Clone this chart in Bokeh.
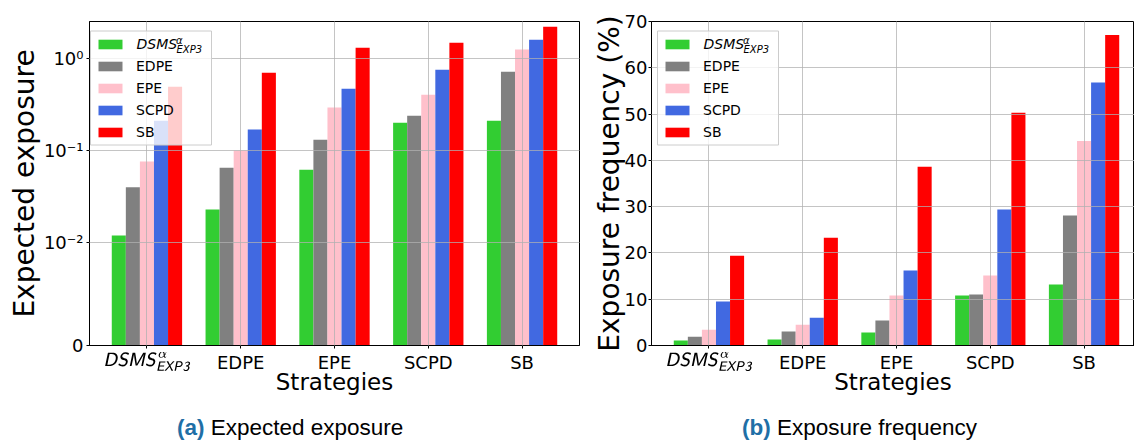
import math
from bokeh.plotting import figure
from bokeh.models import (ColumnDataSource, Range1d, FixedTicker, Legend, LegendItem,
                          Label, Div, CustomJSTransform, TeX, BoxAnnotation)
from bokeh.transform import dodge, transform
from bokeh.layouts import column, row
from bokeh.embed import file_html
from bokeh.resources import INLINE

# ---------------- data ----------------
strategies = ["DSMS", "EDPE", "EPE", "SCPD", "SB"]
series_names = ["DSMS", "EDPE", "EPE", "SCPD", "SB"]
series_colors = ["#32CD32", "#808080", "#FFC0CB", "#4169E1", "#FF0000"]

# (a) expected exposure (symlog axis)
exp_dsms = [0.012, 0.023, 0.062, 0.200, 0.211]
exp_edpe = [0.040, 0.065, 0.131, 0.239, 0.715]
exp_epe = [0.076, 0.100, 0.292, 0.403, 1.24]
exp_scpd = [0.211, 0.169, 0.468, 0.752, 1.59]
exp_sb = [0.492, 0.698, 1.30, 1.47, 2.19]
exp_ticks = [0, 0.01, 0.1, 1]
exp_tick_labels = ["0", "10⁻²", "10⁻¹", "10⁰"]
exp_top = 2.5

# (b) exposure frequency (%)
freq_dsms = [1.1, 1.3, 2.8, 10.8, 13.2]
freq_edpe = [1.9, 3.0, 5.4, 11.0, 28.1]
freq_epe = [3.4, 4.5, 10.8, 15.1, 44.2]
freq_scpd = [9.5, 6.0, 16.2, 29.4, 56.8]
freq_sb = [19.4, 23.3, 38.6, 50.3, 67.1]
freq_ticks = [0, 10, 20, 30, 40, 50, 60, 70]

# ---------------- helpers ----------------
LINTHRESH = 0.01
LINSCALE_ADJ = 1.0 / (1.0 - 1.0 / 10.0)


def symlog(v):
    return v / LINTHRESH * LINSCALE_ADJ if v <= LINTHRESH else LINSCALE_ADJ + math.log10(v / LINTHRESH)


symlog_tf = CustomJSTransform(
    args=dict(t=LINTHRESH, s=LINSCALE_ADJ),
    func="return x <= t ? x / t * s : s + Math.log10(x / t);",
    v_func="""
const out = new Float64Array(xs.length);
for (let i = 0; i < xs.length; i++) {
  const v = xs[i];
  out[i] = v <= t ? v / t * s : s + Math.log10(v / t);
}
return out;
""")

FONT = "DejaVu Sans"
FRAME_H = 324
BAR_W = 0.15
X_START = -0.6125
LEG_TOP_GAP = 9.5
LEG_PAD = 5
LEG_ROW = 16
LEG_SP = 6
LEG_GLYPH_W = 30
LEG_STANDOFF = 11
LEG_LABEL_W = 70
LEG_INNER_H = 5 * LEG_ROW + 4 * LEG_SP
LEG_H = 2 * LEG_PAD + LEG_INNER_H
LEG_W = 2 * LEG_PAD + LEG_GLYPH_W + LEG_STANDOFF + LEG_LABEL_W
idx = list(range(len(strategies)))

TICK_TEX = r"\small \mathsfit{DSMS}^{\alpha}_{\mathsfit{EXP3}}"


def make_fig(frame_w, x_end, y_range, min_left, min_right, ylabel):
    p = figure(frame_width=frame_w, frame_height=FRAME_H,
               x_range=Range1d(X_START, x_end), y_range=y_range,
               output_backend="svg", toolbar_location=None,
               min_border_top=21, min_border_left=min_left, min_border_right=min_right,
               min_border_bottom=55, background_fill_color="white", border_fill_color="white")
    p.outline_line_color = "black"
    p.outline_line_width = 1
    p.outline_line_alpha = 1
    for ax in (p.xaxis, p.yaxis):
        ax.axis_line_color = "black"
        ax.major_tick_line_color = "black"
        ax.major_tick_in = 0
        ax.major_tick_out = 3
        ax.minor_tick_line_color = None
        ax.major_label_text_font = FONT
        ax.major_label_text_font_size = "18px"
        ax.major_label_text_color = "black"
        ax.axis_label_text_font = FONT
        ax.axis_label_text_font_style = "normal"
        ax.axis_label_text_color = "black"
    p.xaxis.axis_label = "Strategies"
    p.xaxis.axis_label_text_font_size = "23px"
    p.xaxis.axis_label_standoff = -7
    p.xaxis.major_label_standoff = 3
    p.yaxis.axis_label = ylabel
    p.yaxis.axis_label_text_font_size = "28px"
    p.yaxis.axis_label_standoff = 0
    p.xaxis.ticker = FixedTicker(ticks=idx)
    overrides = {i: s for i, s in zip(idx, strategies)}
    overrides[0] = TeX(text=TICK_TEX)
    p.xaxis.major_label_overrides = overrides
    for g in (p.xgrid, p.ygrid):
        g.grid_line_color = "#b0b0b0"
        g.grid_line_alpha = 0.75
        g.grid_line_width = 1
        g.level = "guide"
    p.xgrid.ticker = FixedTicker(ticks=idx)
    return p


def add_bars(p, source, keys, use_tf):
    items = []
    n = len(keys)
    for i, (key, col, name) in enumerate(zip(keys, series_colors, series_names)):
        off = (i - (n - 1) / 2) * BAR_W
        top = transform(key, symlog_tf) if use_tf else key
        r = p.vbar(x=dodge("idx", off, range=p.x_range), top=top, bottom=0, width=BAR_W,
                   source=source, fill_color=col, line_color=None)
        items.append(LegendItem(label=(" " if i == 0 else name), renderers=[r]))
    return items


def math_label(p, x, y, size, sub_size, baseline, dx_sup, dy_sup, dx_sub, dy_sub):
    common = dict(x_units="screen", y_units="screen", text_font=FONT, text_font_style="italic",
                  text_align="left", text_color="black", level="overlay")
    p.add_layout(Label(x=x, y=y, text="DSMS", text_font_size=size,
                       text_baseline=baseline, **common))
    p.add_layout(Label(x=x + dx_sup, y=y + dy_sup, text="α", text_font_size=sub_size,
                       text_baseline=baseline, **common))
    p.add_layout(Label(x=x + dx_sub, y=y + dy_sub, text="EXP3", text_font_size=sub_size,
                       text_baseline=baseline, **common))


def add_legend(p, items, x_off):
    top = FRAME_H - LEG_TOP_GAP
    # legend frame drawn as a box so the custom first label stays on top of it
    p.add_layout(BoxAnnotation(left=x_off, right=x_off + LEG_W, top=top, bottom=top - LEG_H,
                               left_units="screen", right_units="screen",
                               top_units="screen", bottom_units="screen",
                               fill_color="white", fill_alpha=0.8,
                               line_color="#cccccc", line_width=1, line_alpha=1,
                               level="annotation"))
    lg = Legend(items=items, location=(x_off + LEG_PAD, top - LEG_PAD - LEG_INNER_H),
                orientation="vertical",
                label_text_font=FONT, label_text_font_size="14px", label_text_color="black",
                glyph_width=LEG_GLYPH_W, glyph_height=12, label_height=LEG_ROW, spacing=LEG_SP,
                padding=0, margin=0, label_standoff=LEG_STANDOFF, label_width=LEG_LABEL_W,
                border_line_color=None, background_fill_alpha=0)
    p.add_layout(lg)
    lx = x_off + LEG_PAD + LEG_GLYPH_W + LEG_STANDOFF
    cy = top - LEG_PAD - LEG_ROW / 2
    math_label(p, lx, cy, "14px", "10px", "middle", 39.5, 4, 40, -5.5)


# ---------------- (a) ----------------
FW1 = 490
XE1 = 4.6125
PX_PER_UNIT = FW1 / (XE1 - X_START)
src1 = ColumnDataSource(dict(idx=idx, dsms=exp_dsms, edpe=exp_edpe, epe=exp_epe,
                             scpd=exp_scpd, sb=exp_sb))
p1 = make_fig(FW1, XE1, Range1d(0, symlog(exp_top)), 89, 9, "Expected exposure")
p1.yaxis.ticker = FixedTicker(ticks=[symlog(t) for t in exp_ticks])
p1.yaxis.major_label_overrides = {symlog(t): lab for t, lab in zip(exp_ticks, exp_tick_labels)}
p1.yaxis.major_label_standoff = 3
p1.ygrid.ticker = FixedTicker(ticks=[symlog(t) for t in exp_ticks])
items1 = add_bars(p1, src1, ["dsms", "edpe", "epe", "scpd", "sb"], True)
add_legend(p1, items1, 1)

# ---------------- (b) ----------------
FW2 = 483
XE2 = X_START + FW2 / PX_PER_UNIT
src2 = ColumnDataSource(dict(idx=idx, dsms=freq_dsms, edpe=freq_edpe, epe=freq_epe,
                             scpd=freq_scpd, sb=freq_sb))
p2 = make_fig(FW2, XE2, Range1d(0, 70), 63, 0, "Exposure frequency (%)")
p2.yaxis.ticker = FixedTicker(ticks=freq_ticks)
p2.yaxis.major_label_standoff = 1
p2.yaxis.axis_label_standoff = -4
p2.ygrid.ticker = FixedTicker(ticks=freq_ticks)
items2 = add_bars(p2, src2, ["dsms", "edpe", "epe", "scpd", "sb"], False)
add_legend(p2, items2, 6)

# ---------------- captions ----------------
CAP = ("<div style=\"padding-left:{pad}px;padding-top:17px;font-family:'Liberation Sans',Arial,sans-serif;"
       "font-size:22.5px;color:black;white-space:nowrap;line-height:22px;\">"
       "<span style=\"color:#1f6fa6;font-weight:bold\">{tag}</span> {txt}</div>")
d1 = Div(text=CAP.format(pad=177, tag="(a)", txt="Expected exposure"), width=588, height=36, margin=0)
d2 = Div(text=CAP.format(pad=154, tag="(b)", txt="Exposure frequency"), width=546, height=36, margin=0)

layout = column(row(p1, p2, spacing=0), row(d1, d2, spacing=0), spacing=0)
open("out.html", "w").write(file_html(layout, INLINE))
